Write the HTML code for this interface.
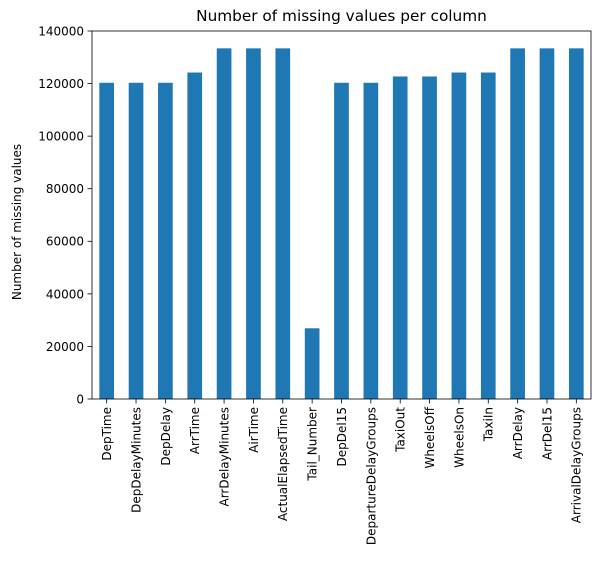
<!DOCTYPE html>
<html><head><style>
body{margin:0;background:#fff;font-family:"DejaVu Sans","Liberation Sans",sans-serif;}
</style></head><body>
<svg id="chart" width="598" height="579" xmlns="http://www.w3.org/2000/svg" font-family="DejaVu Sans, Liberation Sans, sans-serif"></svg>
<script>
const categories=["DepTime","DepDelayMinutes","DepDelay","ArrTime","ArrDelayMinutes","AirTime","ActualElapsedTime","Tail_Number","DepDel15","DepartureDelayGroups","TaxiOut","WheelsOff","WheelsOn","TaxiIn","ArrDelay","ArrDel15","ArrivalDelayGroups"];
const values=[120300,120300,120300,124200,133400,133400,133400,26900,120300,120300,122700,122700,124200,124200,133400,133400,133400];
const yTicks=[0,20000,40000,60000,80000,100000,120000,140000];
const svg=document.getElementById('chart');
const NS='http://www.w3.org/2000/svg';
const L=92,R=591,T=31,B=399,yMax=140000;
const y=v=>B-(v/yMax)*(B-T);
const step=(R-L)/categories.length;
const x=i=>L+step*(i+0.5);
function mk(tag,attrs,text){const e=document.createElementNS(NS,tag);for(const k in attrs)e.setAttribute(k,attrs[k]);if(text!==undefined)e.textContent=text;svg.appendChild(e);return e;}
categories.forEach((c,i)=>{
  const b=mk('rect',{x:x(i)-step/4,y:y(values[i]),width:step/2,height:B-y(values[i]),fill:'#1f77b4'});
  
  
  mk('line',{x1:x(i),x2:x(i),y1:B,y2:B+4.5,stroke:'#000','stroke-width':0.8});
  const t=mk('text',{x:0,y:0,'font-size':12,'text-anchor':'end',transform:`translate(${x(i)+4.4},${B+8}) rotate(-90)`},c);
  
  
});
yTicks.forEach(v=>{
  mk('line',{x1:L-4.5,x2:L,y1:y(v),y2:y(v),stroke:'#000','stroke-width':0.8});
  const t=mk('text',{x:L-8,y:y(v)+4.4,'font-size':12,'text-anchor':'end'},String(v));
  
  
});
const f=mk('rect',{x:L,y:T,width:R-L,height:B-T,fill:'none',stroke:'#000','stroke-width':0.8});


const tt=mk('text',{x:(L+R)/2,y:21,'font-size':15.3,'text-anchor':'middle'},'Number of missing values per column');


const yl=mk('text',{x:0,y:0,'font-size':12,'text-anchor':'middle',transform:`translate(21,${(T+B)/2+7}) rotate(-90)`},'Number of missing values');


</script>
</body></html>
